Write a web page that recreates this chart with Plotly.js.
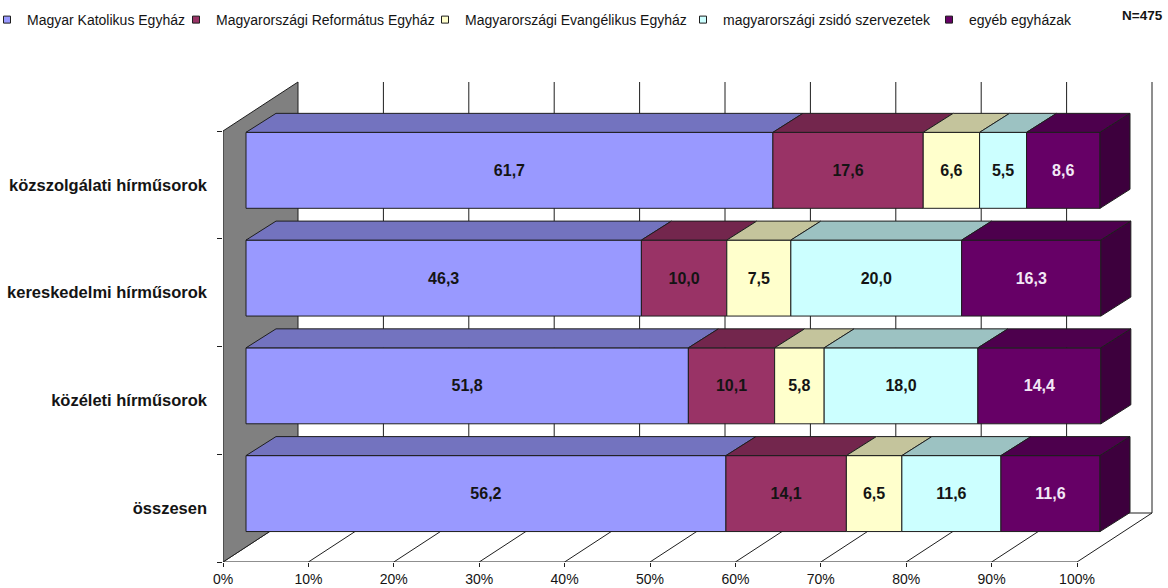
<!DOCTYPE html>
<html><head><meta charset="utf-8">
<script src="https://cdn.plot.ly/plotly-3.0.1.min.js"></script>
<style>html,body{margin:0;padding:0;background:#fff;}#chart{width:1168px;height:588px;}</style>
</head><body><div id="chart"></div>
<script>
// ---- data ----
const categories = ['közszolgálati hírműsorok', 'kereskedelmi hírműsorok', 'közéleti hírműsorok', 'összesen'];
const seriesNames = ['Magyar Katolikus Egyház', 'Magyarországi Református Egyház', 'Magyarországi Evangélikus Egyház', 'magyarországi zsidó szervezetek', 'egyéb egyházak'];
const katolikus   = [61.7, 46.3, 51.8, 56.2];
const reformatus  = [17.6, 10.0, 10.1, 14.1];
const evangelikus = [6.6, 7.5, 5.8, 6.5];
const zsido       = [5.5, 20.0, 18.0, 11.6];
const egyeb       = [8.6, 16.3, 14.4, 11.6];
const xTickValues = [0, 10, 20, 30, 40, 50, 60, 70, 80, 90, 100];
const xTickLabels = ['0%', '10%', '20%', '30%', '40%', '50%', '60%', '70%', '80%', '90%', '100%'];
const sampleNote = 'N=475';

// ---- styles ----
const series = [katolikus, reformatus, evangelikus, zsido, egyeb];
const frontColors = ['#9999FF', '#993366', '#FFFFCC', '#CCFFFF', '#660066'];
const topColors = ['#7373BF', '#73264D', '#C4C49C', '#9CC2C2', '#4D004D'];
const sideColor = '#3D003D';
const textColors = ['#141414', '#141414', '#141414', '#141414', '#F2E8F6'];
const edge = '#1e1e1e';
const FONT = 'Liberation Sans, Arial, sans-serif';

const ML = 223, MR = 8, MT = 80, MB = 26, W = 1168, H = 588;
const PX = 8.54, PY = 107.75;              // px per x-unit / y-unit
const plotW = W - ML - MR, plotH = H - MT - MB;
const WX = 75 / PX, WY = 49 / PY;           // depth of the box
const BX0 = 23 / PX, BY0 = 0.135, BH = 0.705, BDX = 30 / PX, BDY = 19 / PY;

const yPos = categories.map((c, i) => categories.length - 1 - i);
const fmt = v => v.toFixed(1).replace('.', ',');

const traces = [];
const cum = categories.map(() => 0);
const starts = series.map(vals => vals.map((v, i) => { const s = cum[i]; cum[i] += v; return s; }));

series.forEach((vals, s) => {
  traces.push({
    type: 'bar', orientation: 'h',
    y: yPos.map(p => p + BY0), x: vals,
    base: starts[s].map(b => b + BX0),
    width: BH,
    marker: {color: frontColors[s], line: {color: edge, width: 1}},
    text: vals.map(fmt), textposition: 'inside', insidetextanchor: 'middle', textangle: 0,
    constraintext: 'none',
    textfont: {family: FONT, size: 16, weight: 'bold', color: textColors[s]},
    showlegend: false, hoverinfo: 'skip'
  });
});

series.forEach((vals, s) => {
  const xs = [], ys = [];
  vals.forEach((v, i) => {
    const x0 = starts[s][i] + BX0, x1 = x0 + v, yt = yPos[i] + BY0 + BH / 2;
    xs.push(x0, x1, x1 + BDX, x0 + BDX, x0, null);
    ys.push(yt, yt, yt + BDY, yt + BDY, yt, null);
  });
  traces.push({type: 'scatter', mode: 'lines', x: xs, y: ys, fill: 'toself',
    fillcolor: topColors[s], line: {color: edge, width: 1}, showlegend: false, hoverinfo: 'skip'});
});

{
  const last = series.length - 1, xs = [], ys = [];
  series[last].forEach((v, i) => {
    const x1 = starts[last][i] + v + BX0, yt = yPos[i] + BY0 + BH / 2, yb = yPos[i] + BY0 - BH / 2;
    xs.push(x1, x1, x1 + BDX, x1 + BDX, x1, null);
    ys.push(yb, yt, yt + BDY, yb + BDY, yb, null);
  });
  traces.push({type: 'scatter', mode: 'lines', x: xs, y: ys, fill: 'toself',
    fillcolor: sideColor, line: {color: edge, width: 1}, showlegend: false, hoverinfo: 'skip'});
}

// legend-only entries, one legend each
const legendTextStarts = [27, 216, 465, 723, 969];
const layoutLegends = {};
seriesNames.forEach((name, s) => {
  const key = s === 0 ? 'legend' : 'legend' + (s + 1);
  traces.push({type: 'scatter', mode: 'markers', x: [null], y: [null], name: name,
    legend: key, showlegend: true,
    marker: {symbol: 'square', size: 7, color: frontColors[s], line: {color: edge, width: 1}}});
  layoutLegends[key] = {
    x: (legendTextStarts[s] - 40 - ML) / plotW, xanchor: 'left',
    y: 1 + (MT - 20) / plotH, yanchor: 'middle',
    orientation: 'h', bgcolor: 'rgba(0,0,0,0)', borderwidth: 0,
    font: {family: FONT, size: 14, color: '#141414'}
  };
});

// box shapes (walls, floor, grid)
const yTop = categories.length - 0.5;
const shapes = [];
shapes.push({type: 'path', xref: 'x', yref: 'y', layer: 'below',
  path: `M0,-0.5 L100,-0.5 L${100 + WX},${-0.5 + WY} L${WX},${-0.5 + WY} Z`,
  fillcolor: '#FFFFFF', line: {color: edge, width: 1}});
xTickValues.filter(t => t > 0 && t < 100).forEach(t => shapes.push({type: 'line', xref: 'x', yref: 'y', layer: 'below',
  x0: t, y0: -0.5, x1: t + WX, y1: -0.5 + WY, line: {color: edge, width: 1}}));
xTickValues.filter(t => t > 0).forEach(t => shapes.push({type: 'line', xref: 'x', yref: 'y', layer: 'below',
  x0: t + WX, y0: -0.5 + WY, x1: t + WX, y1: yTop + WY, line: {color: edge, width: 1}}));
shapes.push({type: 'path', xref: 'x', yref: 'y', layer: 'below',
  path: `M0,-0.5 L0,${yTop} L${WX},${yTop + WY} L${WX},${-0.5 + WY} Z`,
  fillcolor: '#808080', line: {color: edge, width: 1}});

const layout = Object.assign({
  width: W, height: H,
  margin: {l: ML, r: MR, t: MT, b: MB, pad: 0, autoexpand: false},
  paper_bgcolor: '#FFFFFF', plot_bgcolor: '#FFFFFF',
  barmode: 'overlay',
  font: {family: FONT, color: '#141414'},
  xaxis: {range: [0, plotW / PX], tickvals: xTickValues, ticktext: xTickLabels, automargin: false,
    ticks: 'outside', ticklen: 4, tickcolor: edge, showgrid: false, zeroline: false, showline: false,
    tickfont: {family: FONT, size: 14, color: '#141414'}, fixedrange: true},
  yaxis: {range: [-0.5, -0.5 + plotH / PY], tickvals: yPos, ticktext: categories, automargin: false,
    ticks: '', showgrid: false, zeroline: false, showline: false, ticklabelstandoff: 15,
    minor: {tickmode: 'array', tickvals: [-0.5, 0.5, 1.5, 2.5, 3.5], ticks: 'outside', ticklen: 5, tickcolor: edge, showgrid: false},
    tickfont: {family: FONT, size: 16.5, weight: 'bold', color: '#141414'}, fixedrange: true},
  shapes: shapes,
  annotations: [{xref: 'paper', yref: 'paper', x: (1142 - ML) / plotW, y: 1 + (MT - 15) / plotH,
    text: sampleNote, showarrow: false, xanchor: 'center', yanchor: 'middle',
    font: {family: FONT, size: 13.5, weight: 'bold', color: '#141414'}}]
}, layoutLegends);

Plotly.newPlot('chart', traces, layout, {staticPlot: true, displayModeBar: false});
</script></body></html>
